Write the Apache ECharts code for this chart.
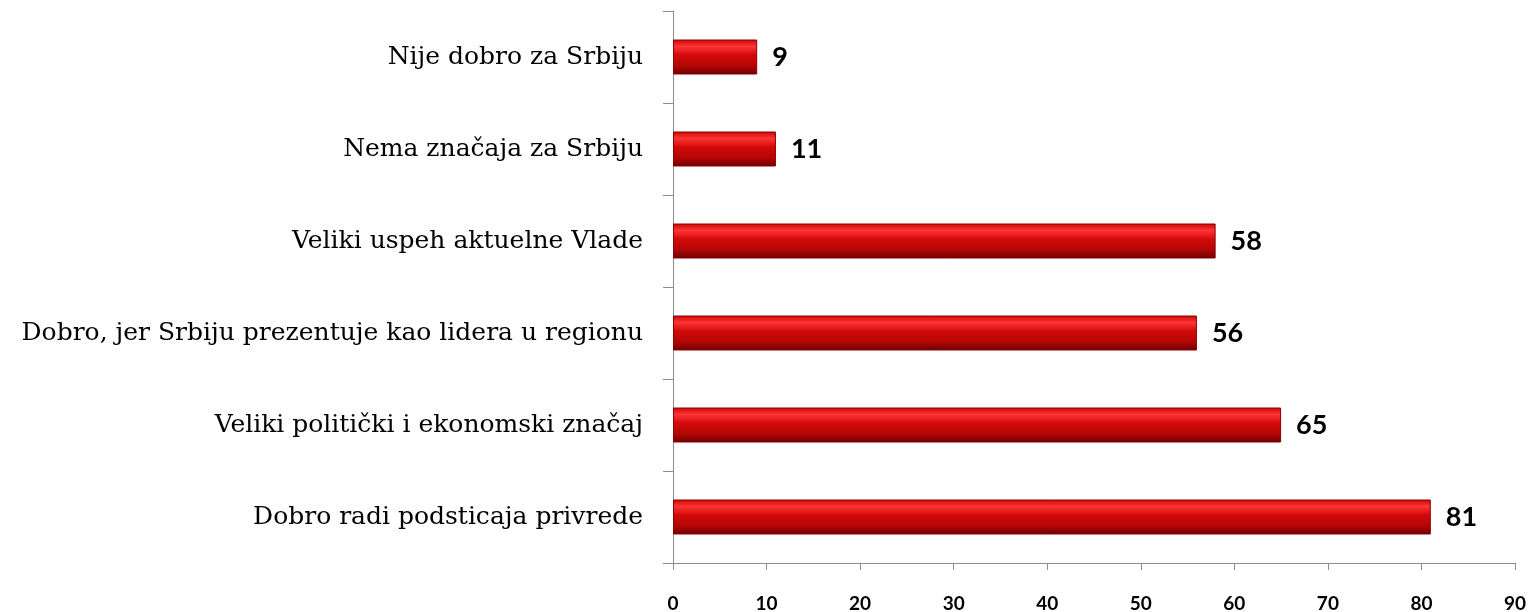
<!DOCTYPE html>
<html>
<head>
<meta charset="utf-8">
<script src="https://cdn.jsdelivr.net/npm/echarts@6/dist/echarts.min.js"></script>
<style>
  html, body { margin: 0; padding: 0; background: #fff; }
  #chart { width: 1539px; height: 612px; }
</style>
</head>
<body>
<div id="chart"></div>
<script>
// kategorije odozdo nagore (kao na slici)
const categories = [
  'Dobro radi podsticaja privrede',
  'Veliki politički i ekonomski značaj',
  'Dobro, jer Srbiju prezentuje kao lidera u regionu',
  'Veliki uspeh aktuelne Vlade',
  'Nema značaja za Srbiju',
  'Nije dobro za Srbiju'
]
const values = [81, 65, 56, 58, 11, 9]
const xTicks = [0, 10, 20, 30, 40, 50, 60, 70, 80, 90]

const myChart = echarts.init(document.getElementById('chart'))
const barColor = new echarts.graphic.LinearGradient(0, 0, 0, 1, [
  { offset: 0, color: '#c80606' },
  { offset: 0.2, color: '#ff3434' },
  { offset: 0.45, color: '#d20808' },
  { offset: 0.75, color: '#b40606' },
  { offset: 1, color: '#6a0000' }
])

var option = {
  animation: false,
  grid: { left: 673, right: 24, top: 11, bottom: 49, outerBoundsMode: 'none' },
  xAxis: {
    type: 'value',
    min: xTicks[0],
    max: xTicks[xTicks.length - 1],
    interval: 10,
    splitLine: { show: false },
    axisLine: { show: true, lineStyle: { color: '#8c8c8c', width: 1 } },
    axisTick: { show: true, length: 7, lineStyle: { color: '#8c8c8c' } },
    axisLabel: {
      margin: 31,
      color: '#000',
      fontFamily: 'Lato',
      fontWeight: 'bold',
      fontSize: 19
    }
  },
  yAxis: {
    type: 'category',
    data: categories,
    axisLine: { show: true, lineStyle: { color: '#8c8c8c', width: 1 } },
    axisTick: { show: true, length: 10, alignWithLabel: false, lineStyle: { color: '#8c8c8c' } },
    axisLabel: {
      margin: 30,
      color: '#000',
      fontFamily: 'DejaVu Serif',
      fontSize: 25
    }
  },
  series: [
    {
      type: 'bar',
      data: values,
      barWidth: 35,
      itemStyle: {
        color: barColor,
        borderColor: '#8a0000',
        borderWidth: 1
      },
      label: {
        show: true,
        position: 'right',
        distance: 15,
        color: '#000',
        fontFamily: 'Lato',
        fontWeight: 'bold',
        fontSize: 27
      }
    }
  ]
}
myChart.setOption(option)
window.addEventListener('resize', () => {
  myChart.resize()
})
</script>
</body>
</html>
